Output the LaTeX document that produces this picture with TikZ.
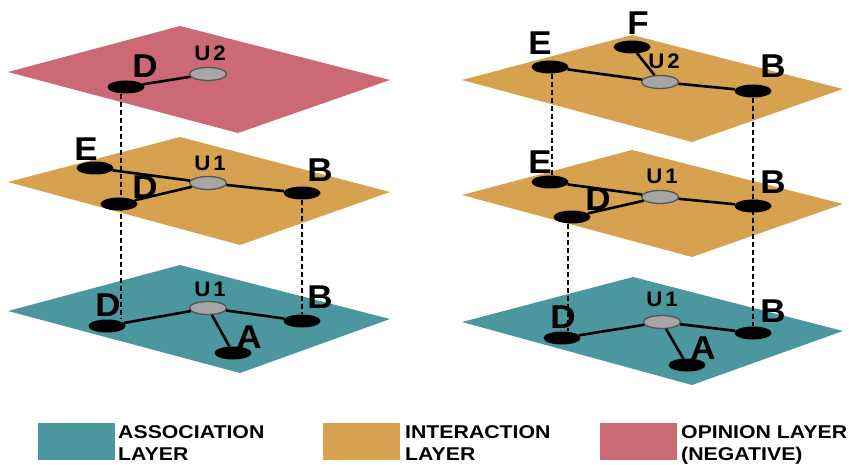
\documentclass[tikz,border=0pt]{standalone}
\usepackage{fontspec}
\setmainfont{Liberation Sans}
\newfontfamily\widesans[FakeStretch=1.15]{Liberation Sans}
\newfontfamily\labelsans[FakeStretch=1.06]{Liberation Sans}
\usetikzlibrary{shapes.geometric}
\definecolor{assoc}{HTML}{4C979F}
\definecolor{inter}{HTML}{D6A24F}
\definecolor{opin}{HTML}{CB6A75}
\definecolor{hubfill}{HTML}{A6A6A6}
\definecolor{hubline}{HTML}{555555}
\begin{document}
\begin{tikzpicture}[x=1pt,y=-1pt,
  dot/.style={ellipse, fill=black, minimum width=37pt, minimum height=13pt, inner sep=0pt},
  hub/.style={ellipse, fill=hubfill, draw=hubline, line width=1.3pt, minimum width=37pt, minimum height=13pt, inner sep=0pt},
  lbl/.style={font=\labelsans\bfseries\fontsize{33}{33}\selectfont, inner sep=0pt},
  ulbl/.style={font=\labelsans\bfseries\fontsize{21}{21}\selectfont, inner sep=0pt},
  link/.style={line width=2.6pt},
  tie/.style={line width=2pt, dash pattern=on 5pt off 3pt},
  swatch/.style={minimum width=77pt, minimum height=37pt, inner sep=0pt},
  keytext/.style={font=\widesans\bfseries\fontsize{18.5}{18.5}\selectfont, inner sep=0pt, anchor=base west}]
\useasboundingbox (0,0) rectangle (849,465);

% layer planes, left stack
\fill[opin]  (8,72)  -- (180,26)  -- (390,80)  -- (238,133) -- cycle;
\fill[inter] (8,182) -- (180,137) -- (390,192) -- (240,245) -- cycle;
\fill[assoc] (8,311) -- (180,265) -- (390,319) -- (240,373) -- cycle;
% layer planes, right stack
\fill[inter] (462,80)  -- (632,35)  -- (843,89)  -- (692,142) -- cycle;
\fill[inter] (462,195) -- (632,150) -- (843,204) -- (692,257) -- cycle;
\fill[assoc] (462,322) -- (633,277) -- (843,331) -- (692,385) -- cycle;

% left stack: opinion layer
\node[dot] (LtD) at (126,87) {};
\node[hub] (LtU) at (208,74) {};
\node[lbl]  at (145,66) {D};
\node[ulbl] at (210,53) {U\kern3pt 2};
% left stack: interaction layer
\node[dot] (LmE) at (95,168) {};
\node[dot] (LmD) at (119,204) {};
\node[hub] (LmU) at (208,183) {};
\node[dot] (LmB) at (302,193) {};
\node[lbl]  at (86,149) {E};
\node[lbl]  at (145,187) {D};
\node[ulbl] at (210,163) {U\kern3pt 1};
\node[lbl]  at (320,170) {B};
% left stack: association layer
\node[dot] (LbD) at (107,326) {};
\node[hub] (LbU) at (208,308) {};
\node[dot] (LbB) at (302,321) {};
\node[dot] (LbA) at (233,353) {};
\node[lbl]  at (108,305) {D};
\node[ulbl] at (210,289) {U\kern3pt 1};
\node[lbl]  at (320,297) {B};
\node[lbl]  at (249,337) {A};

% right stack: upper interaction layer
\node[dot] (RtE) at (550,67) {};
\node[dot] (RtF) at (632,47) {};
\node[hub] (RtU) at (660,82) {};
\node[dot] (RtB) at (753,91) {};
\node[lbl]  at (540,43) {E};
\node[lbl]  at (638,23) {F};
\node[ulbl] at (664,61) {U\kern3pt 2};
\node[lbl]  at (773,66) {B};
% right stack: lower interaction layer
\node[dot] (RmE) at (550,182) {};
\node[dot] (RmD) at (572,217) {};
\node[hub] (RmU) at (660,197) {};
\node[dot] (RmB) at (753,206) {};
\node[lbl]  at (540,162) {E};
\node[lbl]  at (598,199) {D};
\node[ulbl] at (662,176) {U\kern3pt 1};
\node[lbl]  at (773,182) {B};
% right stack: association layer
\node[dot] (RbD) at (562,338) {};
\node[hub] (RbU) at (662,322) {};
\node[dot] (RbB) at (753,333) {};
\node[dot] (RbA) at (687,365) {};
\node[lbl]  at (563,317) {D};
\node[ulbl] at (662,299) {U\kern3pt 1};
\node[lbl]  at (773,311) {B};
\node[lbl]  at (703,348) {A};

% links inside each layer
\draw[link] (LtD) -- (LtU);
\draw[link] (LmE) -- (LmU);
\draw[link] (LmD) -- (LmU);
\draw[link] (LmB) -- (LmU);
\draw[link] (LbD) -- (LbU);
\draw[link] (LbB) -- (LbU);
\draw[link] (LbA) -- (LbU);
\draw[link] (RtE) -- (RtU);
\draw[link] (RtF) -- (RtU);
\draw[link] (RtB) -- (RtU);
\draw[link] (RmE) -- (RmU);
\draw[link] (RmD) -- (RmU);
\draw[link] (RmB) -- (RmU);
\draw[link] (RbD) -- (RbU);
\draw[link] (RbB) -- (RbU);
\draw[link] (RbA) -- (RbU);

% dashed ties between copies of the same user across layers
\draw[tie] ([xshift=-5pt]LtD.south) -- ([xshift=-5pt]LtD.south |- LbD.north);
\draw[tie] (LmB.south) -- (LbB.north);
\draw[tie] ([xshift=2pt]RtE.south) -- ([xshift=2pt]RtE.south |- RmE.north);
\draw[tie] (RtB.south) -- (RbB.north);
\draw[tie] ([xshift=-4pt]RmD.south) -- ([xshift=-4pt]RmD.south |- RbD.north);

% legend
\node[swatch, fill=assoc] (k1) at (76.5,441.5) {};
\node[keytext] at (118,438) {ASSOCIATION};
\node[keytext] at (118,460) {LAYER};
\node[swatch, fill=inter] (k2) at (361.5,441.5) {};
\node[keytext] at (405,438) {INTERACTION};
\node[keytext] at (405,460) {LAYER};
\node[swatch, fill=opin] (k3) at (638.5,441.5) {};
\node[keytext] at (681,438) {OPINION LAYER};
\node[keytext] at (681,460) {(NEGATIVE)};
\end{tikzpicture}
\end{document}
